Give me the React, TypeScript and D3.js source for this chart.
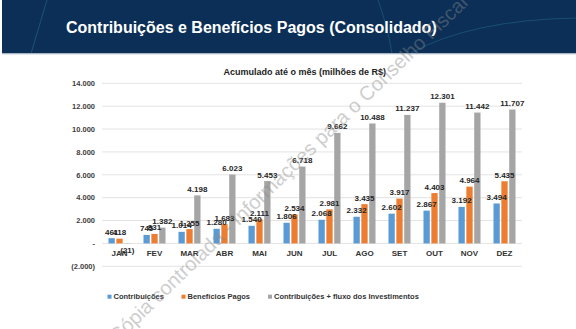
import React from "react";
import * as d3 from "d3";

const months = ["JAN", "FEV", "MAR", "ABR", "MAI", "JUN", "JUL", "AGO", "SET", "OUT", "NOV", "DEZ"];
const contribuicoes = [461, 745, 1014, 1280, 1540, 1806, 2068, 2332, 2602, 2867, 3192, 3494];
const beneficios = [418, 831, 1255, 1683, 2111, 2534, 2981, 3435, 3917, 4403, 4964, 5435];
const contribFluxo = [-21, 1382, 4198, 6023, 5453, 6718, 9662, 10488, 11237, 12301, 11442, 11707];
const seriesNames = ["Contribuições", "Benefícios Pagos", "Contribuições + fluxo dos Investimentos"];
const seriesColors = ["#5b9bd5", "#ed7d31", "#a5a5a5"];
const yTicks = [-2000, 0, 2000, 4000, 6000, 8000, 10000, 12000, 14000];
const title = "Contribuições e Benefícios Pagos (Consolidado)";
const subtitle = "Acumulado até o mês (milhões de R$)";
const watermark = "Cópia controlada - Informações para o Conselho Fiscal";

const W = 576;
const H = 329;
const FONT = "Liberation Sans, Arial, sans-serif";

const thousands = (v: number) => {
  const s = Math.round(Math.abs(v)).toString().replace(/\B(?=(\d{3})+(?!\d))/g, ".");
  return s;
};
const fmtTick = (v: number) => (v === 0 ? "-" : v < 0 ? `(${thousands(v)})` : thousands(v));
const fmtLabel = (v: number) => (v < 0 ? `(${thousands(v)})` : thousands(v));

export default function App() {
  const y = d3.scaleLinear().domain([-2000, 14000]).range([266.3, 83.3]);
  const x0 = d3.scaleBand<string>().domain(months).range([102, 522]).paddingInner(0.371).paddingOuter(0.1855);
  const x1 = d3.scaleBand<number>().domain([0, 1, 2]).range([0, x0.bandwidth()]).paddingInner(0.2).paddingOuter(0);
  const series = [contribuicoes, beneficios, contribFluxo];

  const legendX = [107.5, 181.5, 268];

  return (
    <svg
      width={W}
      height={H}
      style={{ position: "absolute", left: 0, top: 0, background: "#fff" }}
      fontFamily={FONT}
    >
      <rect x={0} y={0} width={W} height={H} fill="#fff" />
      {/* header band */}
      <rect x={2} y={0} width={W - 2} height={53.5} fill="#0b2f57" />
      <path d="M47,0 L31,53.5" stroke="#2f6f8f" strokeWidth={0.8} fill="none" opacity={0.7} />
      <path d="M378,0 Q388,28 392,53.5" stroke="#2f6f8f" strokeWidth={0.8} fill="none" opacity={0.6} />
      <path d="M410,53.5 Q470,20 576,18" stroke="#2f6f8f" strokeWidth={0.8} fill="none" opacity={0.6} />
      <rect x={2} y={53.5} width={W - 2} height={1} fill="#c9d3dc" />
      <text x={66} y={33.3} fontSize={16} fontWeight="bold" fill="#ffffff">
        {title}
      </text>

      {/* subtitle */}
      <text x={304.7} y={74.8} fontSize={9} fontWeight="bold" fill="#222" textAnchor="middle">
        {subtitle}
      </text>

      {/* gridlines and y ticks */}
      {yTicks.map((t) => (
        <g key={t}>
          <line x1={102} x2={522} y1={y(t)} y2={y(t)} stroke="#e3e3e3" strokeWidth={1} />
          <text x={95} y={y(t) + 2.7} fontSize={7.5} fontWeight="bold" fill="#404040" textAnchor="end">
            {fmtTick(t)}
          </text>
        </g>
      ))}

      {/* bars */}
      {series.map((vals, si) =>
        vals.map((v, i) => {
          const bx = (x0(months[i]) as number) + (x1(si) as number);
          const top = Math.min(y(v), y(0));
          const h = Math.abs(y(v) - y(0));
          return (
            <rect key={`b${si}-${i}`} x={bx} y={top} width={x1.bandwidth()} height={h} fill={seriesColors[si]} />
          );
        })
      )}

      {/* x labels */}
      {months.map((m) => (
        <text
          key={m}
          x={(x0(m) as number) + x0.bandwidth() / 2}
          y={255.6}
          fontSize={8}
          fontWeight="bold"
          fill="#333"
          textAnchor="middle"
        >
          {m}
        </text>
      ))}

      {/* data labels */}
      {series.map((vals, si) =>
        vals.map((v, i) => {
          const cx = (x0(months[i]) as number) + (x1(si) as number) + x1.bandwidth() / 2;
          const ly = v < 0 ? y(v) + 9.5 : y(v) - 3.5;
          return (
            <text
              key={`l${si}-${i}`}
              x={cx}
              y={ly}
              fontSize={8}
              fontWeight="bold"
              fill="#262626"
              textAnchor="middle"
            >
              {fmtLabel(v)}
            </text>
          );
        })
      )}

      {/* legend */}
      {seriesNames.map((n, i) => (
        <g key={n}>
          <rect x={legendX[i]} y={294.7} width={4} height={4} fill={seriesColors[i]} />
          <text x={legendX[i] + 6} y={299.4} fontSize={7.5} fontWeight="bold" fill="#333">
            {n}
          </text>
        </g>
      ))}

      {/* watermark */}
      <text
        x={117}
        y={344}
        fontSize={20}
        fill="#8a8a8a"
        opacity={0.42}
        transform="rotate(-44 117 344)"
      >
        {watermark}
      </text>
    </svg>
  );
}
